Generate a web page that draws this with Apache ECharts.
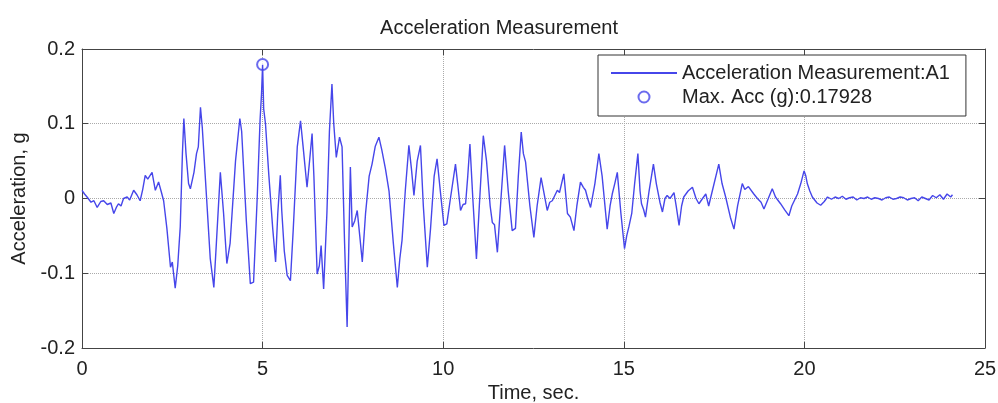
<!DOCTYPE html>
<html>
<head>
<meta charset="utf-8">
<title>Acceleration Measurement</title>
<script src="https://cdn.jsdelivr.net/npm/echarts@6/dist/echarts.min.js"></script>
<style>
  html, body { margin: 0; padding: 0; background: #fff; }
  #main { width: 998px; height: 403px; }
</style>
</head>
<body>
<div id="main"></div>
<script>
// 读图得到的数据 (time in sec, acceleration in g)
var timeSec = [
  0.00, 0.07, 0.14, 0.25, 0.33, 0.42, 0.52, 0.60, 0.70, 0.80, 0.88, 0.95, 1.01, 1.08, 1.15, 1.25,
  1.32, 1.43, 1.52, 1.61, 1.68, 1.75, 1.82, 1.94, 2.03, 2.12, 2.20, 2.26, 2.35, 2.45, 2.50, 2.58,
  2.65, 2.72, 2.78, 2.82, 2.88, 2.95, 3.00, 3.10, 3.17, 3.22, 3.28, 3.33, 3.45, 3.55, 3.65, 3.72,
  3.83, 3.92, 4.01, 4.10, 4.25, 4.37, 4.42, 4.55, 4.66, 4.75, 4.85, 4.93, 4.97, 5.00, 5.03, 5.08,
  5.17, 5.28, 5.36, 5.42, 5.49, 5.53, 5.60, 5.68, 5.77, 5.85, 5.96, 6.05, 6.12, 6.23, 6.30, 6.37,
  6.42, 6.51, 6.57, 6.62, 6.69, 6.78, 6.85, 6.92, 6.97, 7.04, 7.13, 7.20, 7.27, 7.34, 7.38, 7.43,
  7.48, 7.55, 7.62, 7.69, 7.76, 7.85, 7.95, 8.03, 8.12, 8.22, 8.30, 8.40, 8.50, 8.62, 8.73, 8.80,
  8.86, 8.95, 9.05, 9.12, 9.19, 9.28, 9.37, 9.45, 9.56, 9.65, 9.75, 9.83, 9.92, 10.02, 10.10, 10.20,
  10.34, 10.40, 10.48, 10.55, 10.62, 10.68, 10.74, 10.82, 10.92, 11.00, 11.11, 11.20, 11.30, 11.36, 11.42, 11.50,
  11.60, 11.70, 11.80, 11.91, 12.00, 12.08, 12.16, 12.22, 12.28, 12.40, 12.51, 12.60, 12.71, 12.80, 12.88, 12.95,
  13.02, 13.10, 13.16, 13.22, 13.34, 13.44, 13.52, 13.62, 13.70, 13.80, 13.88, 13.94, 14.00, 14.08, 14.20, 14.31,
  14.40, 14.54, 14.62, 14.68, 14.75, 14.82, 14.92, 15.02, 15.08, 15.14, 15.22, 15.30, 15.39, 15.45, 15.49, 15.55,
  15.60, 15.70, 15.82, 15.90, 16.00, 16.07, 16.14, 16.20, 16.28, 16.39, 16.45, 16.53, 16.60, 16.66, 16.78, 16.90,
  17.00, 17.08, 17.18, 17.27, 17.35, 17.45, 17.63, 17.72, 17.82, 17.95, 18.05, 18.15, 18.28, 18.35, 18.45, 18.60,
  18.70, 18.80, 18.88, 19.00, 19.11, 19.20, 19.34, 19.45, 19.57, 19.65, 19.81, 19.90, 19.99, 20.04, 20.08, 20.15,
  20.22, 20.35, 20.45, 20.55, 20.64, 20.75, 20.85, 20.95, 21.05, 21.15, 21.25, 21.35, 21.45, 21.55, 21.65, 21.75,
  21.85, 21.95, 22.05, 22.15, 22.25, 22.35, 22.45, 22.55, 22.65, 22.75, 22.85, 22.95, 23.05, 23.15, 23.25, 23.35,
  23.45, 23.55, 23.65, 23.75, 23.85, 23.95, 24.05, 24.10
];
var accG = [
  0.011, 0.006, 0.002, -0.005, -0.003, -0.012, -0.004, -0.003, -0.008, -0.006, -0.020, -0.012, -0.007, -0.010, 0.000, 0.002,
  -0.002, 0.011, 0.005, -0.003, 0.012, 0.031, 0.026, 0.035, 0.011, 0.022, 0.008, -0.003, -0.040, -0.092, -0.085, -0.120,
  -0.090, -0.038, 0.060, 0.107, 0.060, 0.020, 0.013, 0.035, 0.060, 0.069, 0.122, 0.095, 0.000, -0.080, -0.119, -0.060,
  0.035, -0.020, -0.087, -0.060, 0.050, 0.107, 0.090, -0.030, -0.114, -0.112, 0.000, 0.105, 0.140, 0.179, 0.120, 0.100,
  0.033, -0.040, -0.085, -0.020, 0.031, -0.016, -0.070, -0.103, -0.110, -0.040, 0.069, 0.104, 0.070, 0.015, 0.050, 0.087,
  0.030, -0.101, -0.090, -0.063, -0.121, -0.020, 0.090, 0.153, 0.100, 0.055, 0.082, 0.069, -0.060, -0.172, -0.080, 0.042,
  -0.038, -0.030, -0.016, -0.050, -0.085, -0.020, 0.030, 0.046, 0.070, 0.082, 0.065, 0.040, 0.010, -0.060, -0.119, -0.080,
  -0.056, 0.010, 0.071, 0.040, 0.004, 0.050, 0.071, -0.010, -0.092, -0.040, 0.030, 0.053, 0.010, -0.036, -0.034, 0.000,
  0.046, 0.020, -0.016, -0.008, -0.007, 0.030, 0.073, 0.000, -0.081, -0.010, 0.084, 0.050, -0.010, -0.032, -0.035, -0.072,
  0.000, 0.071, 0.010, -0.043, -0.040, 0.030, 0.089, 0.060, 0.049, -0.010, -0.052, -0.010, 0.028, 0.005, -0.016, -0.005,
  -0.003, 0.005, 0.011, 0.008, 0.033, -0.020, -0.025, -0.043, -0.010, 0.022, 0.015, 0.011, 0.000, -0.012, 0.020, 0.060,
  0.030, -0.041, -0.010, 0.006, 0.020, 0.035, -0.020, -0.067, -0.050, -0.038, -0.020, 0.020, 0.060, 0.010, -0.007, -0.015,
  -0.025, 0.010, 0.046, 0.020, -0.005, -0.018, 0.000, 0.004, 0.000, 0.008, -0.010, -0.036, -0.010, 0.002, 0.010, 0.015,
  0.000, -0.007, 0.000, 0.006, -0.010, 0.010, 0.046, 0.020, 0.002, -0.025, -0.041, -0.010, 0.020, 0.012, 0.016, 0.006,
  0.000, -0.005, -0.014, 0.000, 0.013, 0.002, -0.007, -0.015, -0.023, -0.010, 0.006, 0.020, 0.037, 0.030, 0.020, 0.010,
  0.002, -0.006, -0.009, -0.004, 0.002, -0.001, 0.002, 0.000, 0.003, -0.001, 0.001, 0.002, -0.002, 0.001, 0.000, 0.002,
  -0.001, 0.001, 0.000, -0.002, 0.001, 0.002, -0.001, 0.000, 0.002, 0.001, -0.002, 0.000, 0.001, -0.003, 0.002, 0.000,
  -0.002, 0.004, 0.001, 0.005, -0.001, 0.006, 0.002, 0.005
];
var maxTime = [5.0];
var maxAcc = [0.17928];

var lineName = 'Acceleration Measurement:A1';
var maxName = 'Max. Acc (g):' + maxAcc[0];
var blue = '#4646ea';
var fontFamily = 'Liberation Sans, Arial, sans-serif';

var chart = echarts.init(document.getElementById('main'));

var option = {
  backgroundColor: '#fff',
  animation: false,
  title: {
    text: 'Acceleration Measurement',
    left: 'center',
    top: 13,
    textStyle: { fontFamily: fontFamily, fontSize: 20, fontWeight: 'normal', color: '#222' }
  },
  legend: {
    orient: 'vertical',
    left: 598,
    top: 55,
    padding: [8, 16, 9, 12],
    itemWidth: 66,
    itemHeight: 11,
    itemGap: 4,
    borderColor: '#333',
    borderWidth: 1,
    backgroundColor: '#fff',
    textStyle: { fontFamily: fontFamily, fontSize: 20, color: '#222' },
    data: [
      { name: lineName, itemStyle: { opacity: 0 } },
      { name: maxName }
    ]
  },
  grid: { left: 82, right: 13, top: 49, bottom: 55, outerBoundsMode: 'none' },
  xAxis: [
    {
      type: 'value', min: 0, max: 25, interval: 5,
      name: 'Time, sec.', nameLocation: 'middle', nameGap: 34,
      nameTextStyle: { fontFamily: fontFamily, fontSize: 20, color: '#222' },
      axisLine: { show: true, onZero: false, lineStyle: { color: '#444' } },
      axisTick: { show: true, inside: true, length: 6, lineStyle: { color: '#444' } },
      axisLabel: { fontFamily: fontFamily, fontSize: 20, color: '#222', margin: 11 },
      splitLine: { show: true, lineStyle: { type: 'dotted', color: '#aaa' } }
    },
    {
      type: 'value', min: 0, max: 25, interval: 5, position: 'top',
      axisLine: { show: true, onZero: false, lineStyle: { color: '#444' } },
      axisTick: { show: true, inside: true, length: 6, lineStyle: { color: '#444' } },
      axisLabel: { show: false },
      splitLine: { show: false }
    }
  ],
  yAxis: [
    {
      type: 'value', min: -0.2, max: 0.2, interval: 0.1,
      name: 'Acceleration, g', nameLocation: 'middle', nameGap: 48,
      nameTextStyle: { fontFamily: fontFamily, fontSize: 20, color: '#222' },
      axisLine: { show: true, onZero: false, lineStyle: { color: '#444' } },
      axisTick: { show: true, inside: true, length: 6, lineStyle: { color: '#444' } },
      axisLabel: { fontFamily: fontFamily, fontSize: 20, color: '#222', margin: 7 },
      splitLine: { show: true, lineStyle: { type: 'dotted', color: '#aaa' } }
    },
    {
      type: 'value', min: -0.2, max: 0.2, interval: 0.1, position: 'right',
      axisLine: { show: true, onZero: false, lineStyle: { color: '#444' } },
      axisTick: { show: true, inside: true, length: 6, lineStyle: { color: '#444' } },
      axisLabel: { show: false },
      splitLine: { show: false }
    }
  ],
  series: [
    {
      name: lineName,
      type: 'line',
      symbol: 'none',
      showSymbol: false,
      lineStyle: { color: blue, width: 1.4 },
      itemStyle: { color: blue },
      data: timeSec.map(function (t, i) { return [t, accG[i]]; })
    },
    {
      name: maxName,
      type: 'scatter',
      symbol: 'emptyCircle',
      symbolSize: 11,
      itemStyle: { color: blue, borderColor: blue, borderWidth: 1 },
      data: maxTime.map(function (t, i) { return [t, maxAcc[i]]; })
    }
  ]
};

chart.setOption(option);
</script>
</body>
</html>
